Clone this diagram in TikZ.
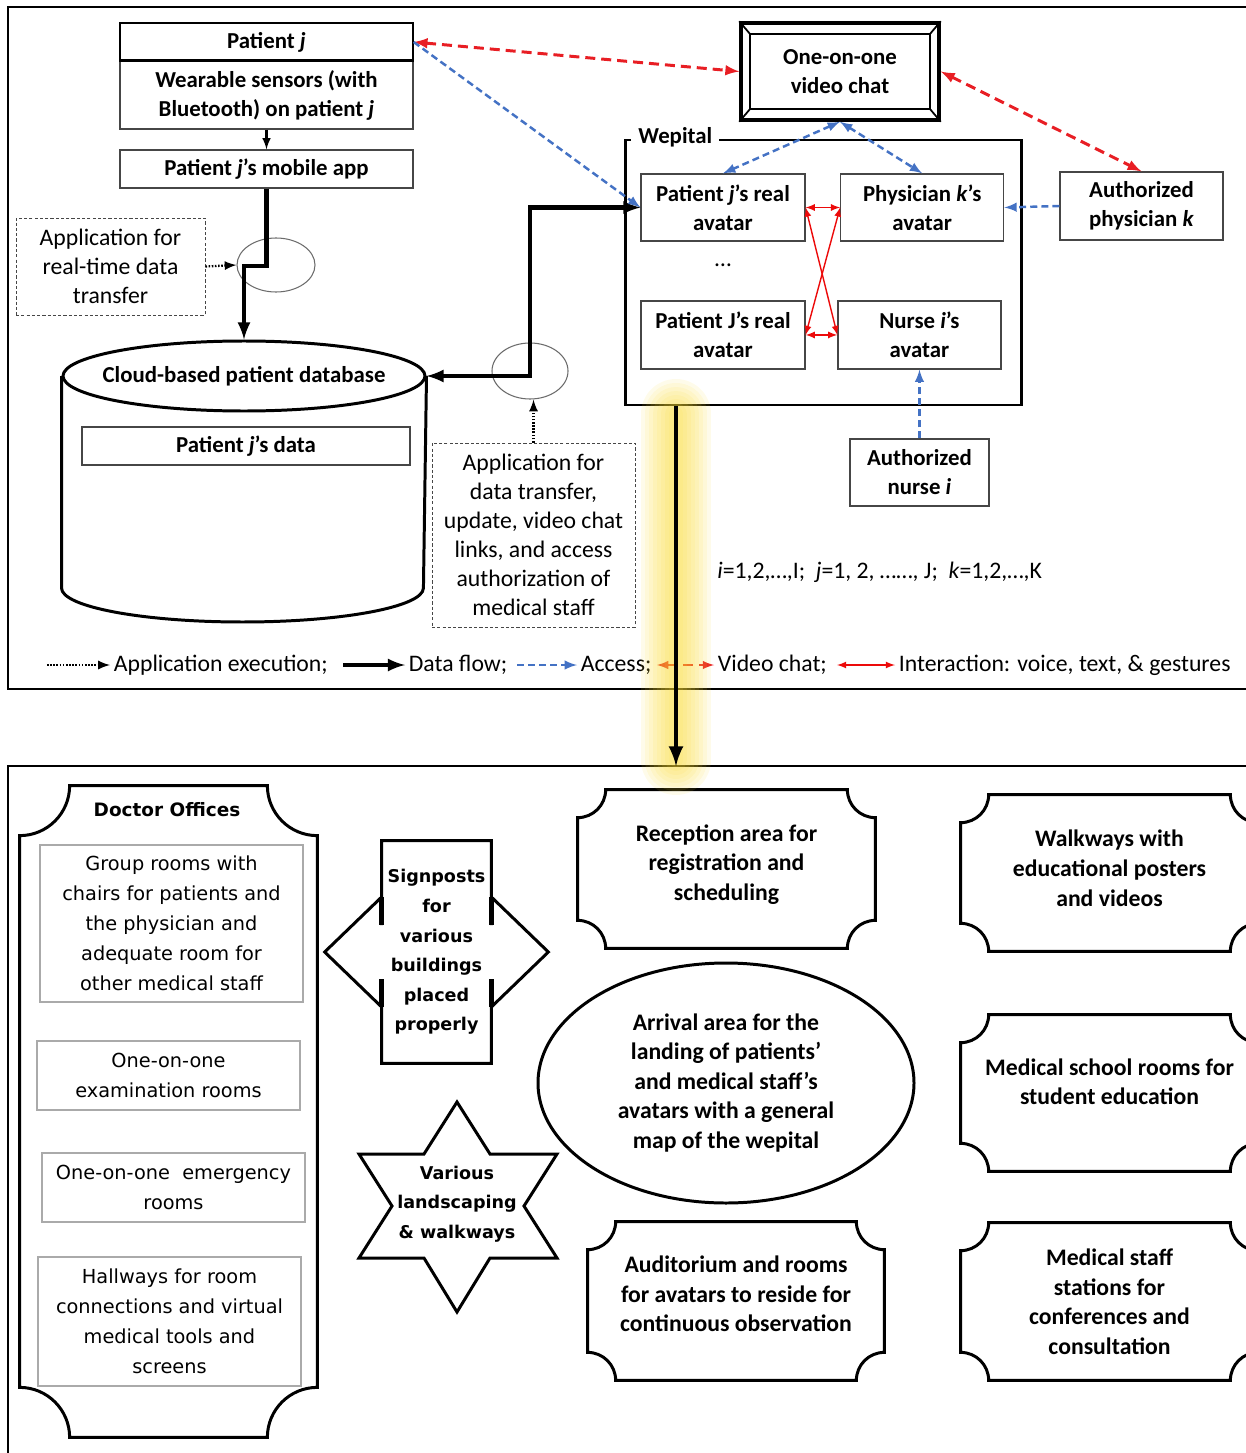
\documentclass[tikz,border=0pt]{standalone}
\usepackage{fontspec}
\setmainfont{Carlito}
\newfontfamily\verdanalike{DejaVu Sans}
\usepackage{tikz}
\usetikzlibrary{arrows,positioning,calc,shapes.geometric}

\definecolor{chatred}{RGB}{232,30,36}
\definecolor{accessblue}{RGB}{68,114,196}
\definecolor{talkred}{RGB}{236,10,10}
\definecolor{edgegray}{RGB}{70,70,70}
\definecolor{roomgray}{RGB}{170,170,170}
\definecolor{glowyellow}{RGB}{250,218,50}

\newcommand{\plaqueframe}[2]{%
  \draw[plaqueline] ([xshift=#2]#1.north west) -- ([xshift=-#2]#1.north east)
    arc[start angle=180,end angle=270,radius=#2] -- ([yshift=#2]#1.south east)
    arc[start angle=90,end angle=180,radius=#2] -- ([xshift=#2]#1.south west)
    arc[start angle=0,end angle=90,radius=#2] -- ([yshift=-#2]#1.north west)
    arc[start angle=270,end angle=360,radius=#2] -- cycle;}

\begin{document}
\begin{tikzpicture}[x=0.02cm,y=-0.02cm,on grid,
    every node/.style={align=center,inner sep=0pt,font=\fontsize{13.5}{16.5}\selectfont},
    sz/.style 2 args={minimum width=#1*0.02cm,minimum height=#2*0.02cm},
    lift/.style={text depth=#1},
    bold/.style={font=\bfseries\fontsize{13}{16.5}\selectfont},
    box/.style={bold,draw=edgegray,line width=0.7pt,fill=white},
    appbox/.style={draw=edgegray,line width=0.5pt,dash pattern=on 1.8pt off 1.2pt},
    ring/.style={ellipse,draw=edgegray!80,line width=0.6pt},
    dataflow/.style={line width=2.3pt,-latex},
    appexec/.style={line width=1.3pt,dash pattern=on 0.9pt off 0.9pt,-latex},
    access/.style={accessblue,line width=1.4pt,dash pattern=on 4pt off 2.3pt,-latex},
    vidchat/.style={chatred,line width=1.7pt,dash pattern=on 5.7pt off 3.4pt,latex-latex},
    interact/.style={talkred,line width=0.8pt,latex-latex},
    legend/.style={anchor=west,inner xsep=2pt},
    plaqueline/.style={line width=1.7pt},
    plaque/.style={font=\bfseries\fontsize{13.5}{16.8}\selectfont},
    room/.style={draw=roomgray,line width=0.6pt,font=\verdanalike\fontsize{11}{17}\selectfont},
    wide/.style={font=\verdanalike\bfseries\fontsize{10}{16.8}\selectfont}]
\useasboundingbox (0,0) rectangle (1245,1453);

% upper panel: data and access
\draw[line width=1.1pt] (8,7) rectangle (1265,689);

\node[box,sz={293}{38},draw=black] (pj) at (266.5,42) {Patient \textit{j}};
\node[box,sz={293}{68}] (wear) [below=1.06cm of pj] {Wearable sensors (with\\Bluetooth) on patient \textit{j}};
\draw[line width=1.4pt] (wear.north west) -- (wear.north east);
\node[box,sz={293}{38}] (mobile) [below=1.48cm of wear] {Patient \textit{j}’s mobile app};
\draw[line width=1.2pt,-latex] (wear) -- (mobile);

\node[appbox,sz={189}{97}] (apprt) at (110.5,266.5) {Application for\\real-time data\\transfer};
\node[ring,sz={78}{54}] (ringrt) at (276,265) {};

\node[ellipse,draw,line width=1.7pt,fill=white,sz={362}{70},bold] (dbtop) at (244,376) {\makebox[0pt]{Cloud-based patient database}};
\draw[line width=1.7pt] (dbtop.west) -- ++(0,212) arc[start angle=180,end angle=360,x radius=3.62cm,y radius=0.68cm] -- (dbtop.east);
\node[box,sz={328}{38}] (pjdata) at (246,446) {Patient \textit{j}’s data};

\node[appbox,sz={203}{184}] (appdt) at (533.5,535) {Application for\\data transfer,\\update, video chat\\links, and access\\authorization of\\medical staff};
\node[ring,sz={76}{56}] (ringdt) at (530,371) {};

% wepital
\node[draw,line width=1.7pt,sz={396}{265}] (wep) at (823,272.5) {};
\node[bold,fill=white,anchor=west,inner xsep=0.14cm] (weplabel) at (631,137) {Wepital};
\node[box,sz={164}{67}] (avj) at (723,207.5) {Patient \textit{j}’s real\\avatar};
\node[box,sz={163}{67}] (phys) [right=3.985cm of avj] {Physician \textit{k}’s\\avatar};
\node (dots) [below=1.15cm of avj] {…};
\node[box,sz={164}{68}] (avJ) [below=2.55cm of avj] {Patient J’s real\\avatar};
\node[box,sz={163}{68}] (nurse) [right=3.93cm of avJ] {Nurse \textit{i}’s\\avatar};

\node[draw,line width=2pt,sz={198}{97},bold] (vchat) at (840,71.5) {One-on-one\\video chat};
\draw[line width=1.4pt] ([shift={(11,13)}]vchat.north west) rectangle ([shift={(-11,-13)}]vchat.south east);
\draw[line width=1pt] (vchat.north west) -- ++(11,13) (vchat.north east) -- ++(-11,13)
  (vchat.south west) -- ++(11,-13) (vchat.south east) -- ++(-11,-13);

\node[box,sz={163}{68}] (authk) at (1141.5,206) {Authorized\\physician \textit{k}};
\node[box,sz={139}{67}] (authi) [below=2.75cm of nurse] {Authorized\\nurse \textit{i}};

\draw[dataflow] (mobile.south) -- ++(0,77) -| (dbtop.north);
\draw[dataflow,latex-latex] (avj.west) -- ++(-110,0) |- (dbtop.east);
\draw[appexec] (apprt.east) -- (ringrt.west);
\draw[appexec] (appdt.north) -- (appdt.north |- ringdt.south);

\draw[vidchat] (pj.east) -- (vchat.west);
\draw[vidchat] (vchat.east) -- (authk.north);
\draw[access] (pj.east) -- (avj.west);
\draw[access,latex-latex] (vchat.south) -- (avj.north);
\draw[access,latex-latex] (vchat.south) -- (phys.north);
\draw[access] (authk.west) -- (phys.east);
\draw[access] (authi.north) -- (nurse.south);

\draw[interact] (avj.east) -- (phys.west);
\draw[interact] (avJ.east) -- (nurse.west);
\draw[interact] (avj.east) -- (nurse.west);
\draw[interact] (phys.west) -- (avJ.east);

\node[anchor=west] (ranges) at (717,572) {\textit{i}=1,2,…,I;\ \ \textit{j}=1, 2, ……, J;\ \ \textit{k}=1,2,…,K};

% legend
\node[legend] (lgexec) at (110,665) {Application execution;};
\node[legend] (lgdata) at (405,665) {Data flow;};
\node[legend] (lgacc) at (577,665) {Access;};
\node[legend] (lgchat) at (714,665) {Video chat;};
\node[legend] (lgtalk) at (895,665) {Interaction: voice, text, \& gestures};
\coordinate (kexec) at (47,665);
\coordinate (kdata) at (343,665);
\coordinate (kacc) at (517,665);
\coordinate (kchat) at (657,665);
\coordinate (ktalk) at (837,665);
\draw[appexec] (kexec) -- (lgexec.west);
\draw[dataflow] (kdata) -- (lgdata.west);
\draw[access] (kacc) -- (lgacc.west);
\draw[vidchat,line width=1.2pt] (kchat) -- (lgchat.west);
\draw[interact] (ktalk) -- (lgtalk.west);

% lower panel: the wepital layout
\draw[line width=1.1pt] (8,766) rectangle (1265,1470);

\node[sz={297}{651}] (docs) at (168.5,1111.5) {};
\plaqueframe{docs}{1cm}
\node[wide,font=\verdanalike\bfseries\fontsize{10.5}{17}\selectfont] (doctitle) at (167,810) {Doctor Offices};
\node[room,sz={263}{157}] (group) at (171.5,923.5) {Group rooms with\\chairs for patients and\\the physician and\\adequate room for\\other medical staff};
\node[room,sz={263}{69}] (exam) at (168.5,1075.5) {One-on-one\\examination rooms};
\node[room,sz={263}{69}] (emerg) at (173.5,1187.5) {One-on-one\ \ emergency\\rooms};
\node[room,sz={263}{129}] (hall) at (169.5,1321.5) {Hallways for room\\connections and virtual\\medical tools and\\screens};

\node[wide,sz={109}{222}] (sign) at (436.5,952) {Signposts\\for\\various\\buildings\\placed\\properly};
\draw[line width=1.7pt,line join=miter] (sign.north west) -- ($(sign.west)+(0,-27)$) -- ($(sign.west)+(0,-55)$)
  -- ($(sign.west)+(-57,0)$) -- ($(sign.west)+(0,55)$) -- ($(sign.west)+(0,27)$) -- (sign.south west)
  -- (sign.south east) -- ($(sign.east)+(0,27)$) -- ($(sign.east)+(0,55)$) -- ($(sign.east)+(57,0)$)
  -- ($(sign.east)+(0,-55)$) -- ($(sign.east)+(0,-27)$) -- (sign.north east) -- cycle;
\draw[line width=3pt] ($(sign.west)+(0,-55)$) -- ($(sign.west)+(0,-27)$) ($(sign.west)+(0,27)$) -- ($(sign.west)+(0,55)$)
  ($(sign.east)+(0,-55)$) -- ($(sign.east)+(0,-27)$) ($(sign.east)+(0,27)$) -- ($(sign.east)+(0,55)$);

\node[wide] (star) at (457,1204) {Various\\landscaping\\\& walkways};
\draw[line width=1.7pt,shift={(star.center)}] (0,-102) -- (33,-50) -- (100,-50) -- (67,2) -- (100,54) -- (33,54)
  -- (0,108) -- (-33,54) -- (-98,54) -- (-65,2) -- (-98,-50) -- (-33,-50) -- cycle;

\node[plaque,sz={297}{158},lift=7.5pt] (recep) at (726.5,869) {Reception area for\\registration and\\scheduling};
\plaqueframe{recep}{0.56cm}
\node[plaque,sz={297}{156},lift=5.5pt] (walk) at (1109.5,873) {Walkways with\\educational posters\\and videos};
\plaqueframe{walk}{0.56cm}
\node[plaque,sz={297}{156},lift=13pt] (medsch) at (1109.5,1093) {Medical school rooms for\\student education};
\plaqueframe{medsch}{0.56cm}
\node[plaque,sz={296}{158},lift=8pt] (audit) at (736,1301) {Auditorium and rooms\\for avatars to reside for\\continuous observation};
\plaqueframe{audit}{0.56cm}
\node[plaque,sz={297}{157}] (mstaff) at (1109.5,1301.5) {Medical staff\\stations for\\conferences and\\consultation};
\plaqueframe{mstaff}{0.56cm}

\node[ellipse,draw,line width=1.7pt,sz={376}{240},plaque] (arrive) at (726,1083) {Arrival area for the\\landing of patients’\\and medical staff’s\\avatars with a general\\map of the wepital};

% glowing hand-over from the wepital to its layout
\foreach \w in {70,62,54,46,38,30,22,14}
  \draw[glowyellow,opacity=0.1,line width=\w*0.02cm,line cap=round] (676,414) -- (676,760);
\coordinate (landing) at (676,766);
\draw[line width=2.8pt,-latex] (wep.south west -| landing) -- (landing);
\end{tikzpicture}
\end{document}
